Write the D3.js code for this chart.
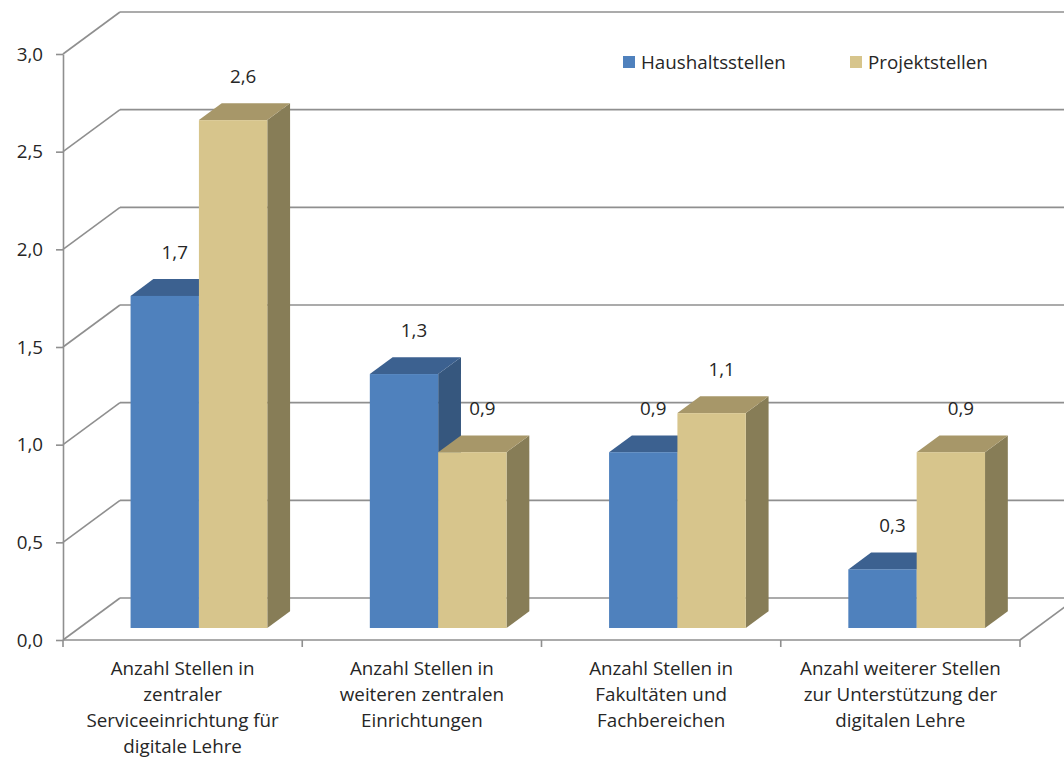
<!DOCTYPE html>
<html>
<head>
<meta charset="utf-8">
<script src="https://cdn.jsdelivr.net/npm/d3@7"></script>
<style>
  html, body { margin: 0; padding: 0; background: #fff; }
  svg { display: block; font-family: "Open Sans", sans-serif; }
</style>
</head>
<body>
<svg id="chart" width="1064" height="761"></svg>
<script>
// Category labels, one entry per line of the wrapped label
const categories = [
  ["Anzahl Stellen in", "zentraler", "Serviceeinrichtung für", "digitale Lehre"],
  ["Anzahl Stellen in", "weiteren zentralen", "Einrichtungen"],
  ["Anzahl Stellen in", "Fakultäten und", "Fachbereichen"],
  ["Anzahl weiterer Stellen", "zur Unterstützung der", "digitalen Lehre"]
];
const seriesNames = ["Haushaltsstellen", "Projektstellen"];
const haushalt = [1.7, 1.3, 0.9, 0.3];
const projekt = [2.6, 0.9, 1.1, 0.9];
const yTicks = [0, 0.5, 1.0, 1.5, 2.0, 2.5, 3.0];

// Face colours per series: front, top, side
const palette = [
  { front: "#4f81bd", top: "#3c6190", side: "#36577e" },
  { front: "#d7c58c", top: "#a79769", side: "#877d57" }
];

const FONT = 18.8;
const TEXT = "#262626";
const svg = d3.select("#chart");
const fmt = d => d.toFixed(1).replace(".", ",");

// Oblique projection: depth f in [0,1] shifts points right and up
const DX = 57, DY = -42;
const catIdx = d3.range(categories.length);
const x = d3.scaleBand().domain(catIdx).range([63, 1020]).padding(0);
const y = d3.scaleLinear().domain([0, 3]).range([640, 54]);
const proj = (xf, v, f) => [xf + DX * f, y(v) + DY * f];

const grid = "#8f8f8f";
const g = svg.append("g");

// Back wall gridlines and left wall diagonals
yTicks.forEach(t => {
  const [bx0, by] = proj(x.range()[0], t, 1);
  const [bx1] = proj(x.range()[1], t, 1);
  g.append("line").attr("x1", bx0).attr("y1", by).attr("x2", bx1).attr("y2", by)
    .attr("stroke", grid).attr("stroke-width", 1.6);
  const [fx, fy] = proj(x.range()[0], t, 0);
  g.append("line").attr("x1", fx).attr("y1", fy).attr("x2", bx0).attr("y2", by)
    .attr("stroke", grid).attr("stroke-width", 1.6);
});
// Right edge of the floor
{
  const [ax, ay] = proj(x.range()[1], 0, 0);
  const [bx, by] = proj(x.range()[1], 0, 1);
  g.append("line").attr("x1", ax).attr("y1", ay).attr("x2", bx).attr("y2", by)
    .attr("stroke", grid).attr("stroke-width", 1.6);
}

// Bars: gap width 150 % of one bar, two bars per category
const step = x.step();
const barW = step / 3.5;
const f0 = 0.286, f1 = 0.686;
const seriesData = [haushalt, projekt];

const bars = g.append("g");
catIdx.forEach(i => {
  seriesData.forEach((vals, s) => {
    const v = vals[i];
    const xa = x(i) + barW * 0.75 + s * barW;
    const xb = xa + barW;
    const c = palette[s];
    const pts = a => a.map(p => p.join(",")).join(" ");
    const bg = bars.append("g");
    // side face
    bg.append("polygon")
      .attr("points", pts([proj(xb, v, f0), proj(xb, 0, f0), proj(xb, 0, f1), proj(xb, v, f1)]))
      .attr("fill", c.side);
    // top face
    bg.append("polygon")
      .attr("points", pts([proj(xa, v, f0), proj(xb, v, f0), proj(xb, v, f1), proj(xa, v, f1)]))
      .attr("fill", c.top);
    // front face
    const [fxa, fya] = proj(xa, v, f0);
    const [fxb, fyb] = proj(xb, 0, f0);
    bg.append("rect").attr("x", fxa).attr("y", fya)
      .attr("width", fxb - fxa).attr("height", fyb - fya)
      .attr("fill", c.front);
    // value label
    bg.append("text")
      .attr("x", (fxa + fxb) / 2 + 10)
      .attr("y", fya - 44)
      .attr("text-anchor", "middle")
      .attr("dominant-baseline", "central")
      .attr("font-size", FONT).attr("fill", TEXT)
      .text(fmt(v));
  });
});

// Value axis
const yAxis = d3.axisLeft(y).tickValues(yTicks).tickFormat(fmt)
  .tickSize(7).tickSizeOuter(0).tickPadding(13);
const ya = svg.append("g").attr("transform", "translate(63,0)").call(yAxis);
ya.select(".domain").attr("stroke", grid).attr("stroke-width", 1.6);
ya.selectAll(".tick line").attr("stroke", grid).attr("stroke-width", 1.6);
ya.selectAll(".tick text").attr("font-size", FONT).attr("fill", TEXT)
  .attr("font-family", "'Open Sans', sans-serif");

// Category axis line and tick marks at category boundaries
svg.append("line").attr("x1", x.range()[0]).attr("x2", x.range()[1])
  .attr("y1", y(0)).attr("y2", y(0)).attr("stroke", grid).attr("stroke-width", 1.6);
d3.range(categories.length + 1).forEach(k => {
  const tx = x.range()[0] + k * step;
  svg.append("line").attr("x1", tx).attr("x2", tx)
    .attr("y1", y(0)).attr("y2", y(0) + 7)
    .attr("stroke", grid).attr("stroke-width", 1.6);
});

// Category labels
catIdx.forEach(i => {
  const t = svg.append("text")
    .attr("x", x(i) + step / 2).attr("y", 668)
    .attr("text-anchor", "middle").attr("font-size", FONT).attr("fill", TEXT);
  categories[i].forEach((line, j) => {
    t.append("tspan").attr("x", x(i) + step / 2)
      .attr("dy", j === 0 ? "0.35em" : 26).text(line);
  });
});

// Legend
const legendX = [623, 850];
seriesNames.forEach((name, s) => {
  const lg = svg.append("g").attr("transform", `translate(${legendX[s]},56)`);
  lg.append("rect").attr("width", 12).attr("height", 12).attr("fill", palette[s].front);
  lg.append("text").attr("x", 18).attr("y", 6).attr("dominant-baseline", "central")
    .attr("font-size", FONT).attr("fill", TEXT).text(name);
});
</script>
</body>
</html>
